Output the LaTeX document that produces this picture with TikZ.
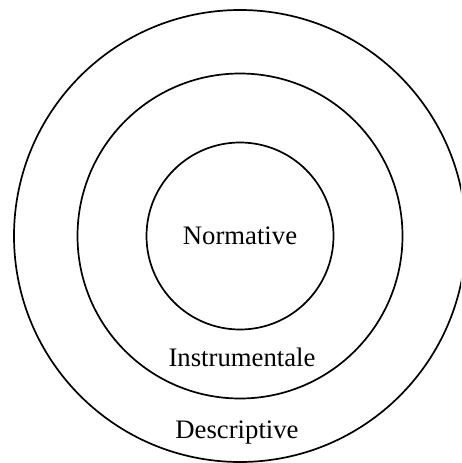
\documentclass[tikz,border=0pt]{standalone}
\usepackage{fontspec}
\setmainfont{Liberation Serif}
\begin{document}
\begin{tikzpicture}[x=1pt,y=-1pt,
  ring/.style={draw=black,line width=1.7pt},
  lbl/.style={anchor=base,inner sep=0pt,font=\fontsize{26.7}{32}\selectfont}]
\useasboundingbox (0,0) rectangle (461,463);
\clip (0,0) rectangle (461,463);
\coordinate (c) at (240,236);
\draw[ring] (c) circle[radius=226];
\draw[ring] (c) circle[radius=162.5];
\draw[ring] (c) circle[radius=93.5];
\node[lbl] (norm) at (240,244) {Normative};
\node[lbl] (instr) at (242,366.5) {Instrumentale};
\node[lbl] (descr) at (237,438) {Descriptive};
\end{tikzpicture}
\end{document}
